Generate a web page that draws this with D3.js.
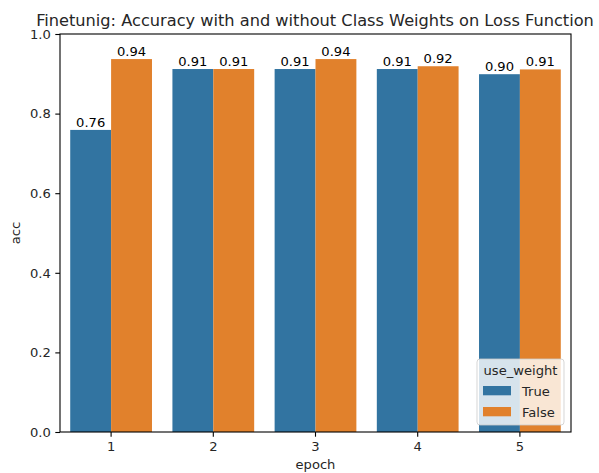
<!DOCTYPE html>
<html><head><meta charset="utf-8">
<script src="https://cdn.jsdelivr.net/npm/d3@7"></script>
<style>body{margin:0;background:#fff}svg{display:block;font-family:"DejaVu Sans",sans-serif}</style>
</head><body><svg id="c" width="599" height="473"></svg>
<script>
const epochs = ["1","2","3","4","5"];
const seriesNames = ["True","False"];
const accTrue = [0.759, 0.912, 0.912, 0.912, 0.899];
const accFalse = [0.937, 0.912, 0.937, 0.919, 0.911];
const labelsTrue = ["0.76","0.91","0.91","0.91","0.90"];
const labelsFalse = ["0.94","0.91","0.94","0.92","0.91"];
const yTicks = [0, 0.2, 0.4, 0.6, 0.8, 1.0];
const colors = ["#3274a1", "#e1812c"];

const FS = 13.1;
const svg = d3.select("#c");
const m = {l:60, r:571, t:34, b:432};
const x = d3.scaleBand().domain(epochs).range([m.l, m.r]).paddingInner(0.2).paddingOuter(0.1);
const xs = d3.scaleBand().domain(seriesNames).range([0, x.bandwidth()]);
const y = d3.scaleLinear().domain([0,1]).range([m.b, m.t]);

const series = [accTrue, accFalse];
const labels = [labelsTrue, labelsFalse];
series.forEach((vals, si) => {
  svg.append("g").selectAll("rect").data(vals).join("rect")
    .attr("x", (d,i) => x(epochs[i]) + xs(seriesNames[si]))
    .attr("width", xs.bandwidth())
    .attr("y", d => y(d))
    .attr("height", d => y(0) - y(d))
    .attr("fill", colors[si]);
  svg.append("g").selectAll("text").data(vals).join("text")
    .attr("x", (d,i) => x(epochs[i]) + xs(seriesNames[si]) + xs.bandwidth()/2)
    .attr("y", d => y(d) - 3.3)
    .attr("text-anchor", "middle")
    .attr("font-size", FS).attr("fill", "#000")
    .text((d,i) => labels[si][i]);
});

// axes
const xa = svg.append("g").attr("transform", `translate(0,${m.b})`)
  .call(d3.axisBottom(x).tickSize(4.7).tickPadding(4.5));
const ya = svg.append("g").attr("transform", `translate(${m.l},0)`)
  .call(d3.axisLeft(y).tickValues(yTicks).tickFormat(d3.format(".1f")).tickSize(4.7).tickPadding(4.5));
[xa, ya].forEach(a => {
  a.select(".domain").remove();
  a.selectAll("text").attr("font-size", FS).attr("fill", "#262626").attr("font-family", "DejaVu Sans");
  a.selectAll("line").attr("stroke", "#000").attr("stroke-width", 1.1);
});
// frame
svg.append("rect").attr("x", m.l).attr("y", m.t).attr("width", m.r - m.l).attr("height", m.b - m.t)
  .attr("fill", "none").attr("stroke", "#000").attr("stroke-width", 1.1);

svg.append("text").attr("x", (m.l+m.r)/2).attr("y", 469).attr("text-anchor", "middle")
  .attr("font-size", FS).attr("fill", "#262626").text("epoch");
svg.append("text").attr("transform", `translate(20,${(m.t+m.b)/2}) rotate(-90)`).attr("text-anchor", "middle")
  .attr("font-size", FS).attr("fill", "#262626").text("acc");
svg.append("text").attr("x", 315).attr("y", 25.5).attr("text-anchor", "middle")
  .attr("font-size", 16.2).attr("fill", "#262626").text("Finetunig: Accuracy with and without Class Weights on Loss Function");

// legend
const lg = svg.append("g");
lg.append("rect").attr("x", 477).attr("y", 359).attr("width", 87).attr("height", 66).attr("rx", 3)
  .attr("fill", "#fff").attr("fill-opacity", 0.8).attr("stroke", "#ccc").attr("stroke-opacity", 0.8);
lg.append("text").attr("x", 520.5).attr("y", 375).attr("text-anchor", "middle").attr("font-size", FS).attr("fill", "#262626").text("use_weight");
seriesNames.forEach((s, i) => {
  lg.append("rect").attr("x", 483).attr("y", 386 + i*21).attr("width", 28).attr("height", 9.3).attr("fill", colors[i]);
  lg.append("text").attr("x", 522).attr("y", 395.5 + i*21).attr("font-size", FS).attr("fill", "#262626").text(s);
});
</script></body></html>
